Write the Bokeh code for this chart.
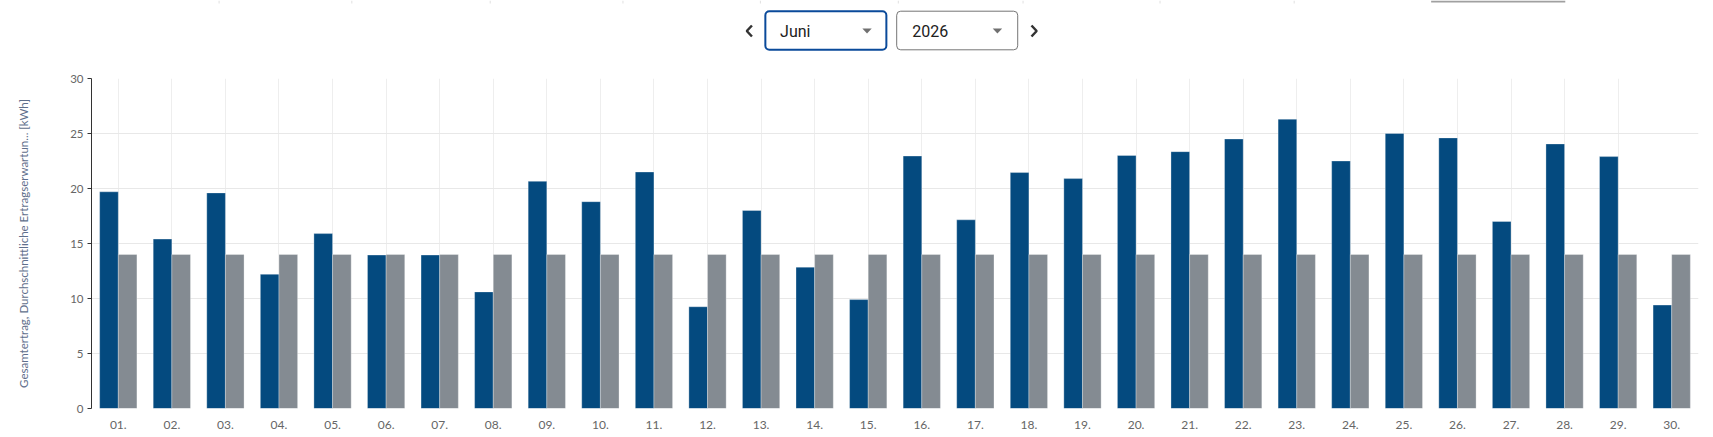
from bokeh.plotting import figure
from bokeh.models import ColumnDataSource, FactorRange, Range1d, FixedTicker, BoxAnnotation
from bokeh.transform import dodge
from bokeh.layouts import column
from bokeh.embed import file_html
from bokeh.resources import INLINE
from bokeh.core.properties import value

# ---------------- data ----------------
days = ["01.", "02.", "03.", "04.", "05.", "06.", "07.", "08.", "09.", "10.",
        "11.", "12.", "13.", "14.", "15.", "16.", "17.", "18.", "19.", "20.",
        "21.", "22.", "23.", "24.", "25.", "26.", "27.", "28.", "29.", "30."]
gesamtertrag = [19.7, 15.4, 19.6, 12.2, 15.9, 13.95, 13.95, 10.6, 20.65, 18.8,
                21.5, 9.25, 18.0, 12.85, 9.9, 22.95, 17.15, 21.45, 20.9, 23.0,
                23.35, 24.5, 26.3, 22.5, 25.0, 24.6, 17.0, 24.05, 22.9, 9.4]
ertragserwartung = [14.0, 14.0, 14.0, 14.0, 14.0, 14.0, 14.0, 14.0, 14.0, 14.0,
                    14.0, 14.0, 14.0, 14.0, 14.0, 14.0, 14.0, 14.0, 14.0, 14.0,
                    14.0, 14.0, 14.0, 14.0, 14.0, 14.0, 14.0, 14.0, 14.0, 14.0]
y_ticks = [0, 5, 10, 15, 20, 25, 30]
y_grid_ticks = [5, 10, 15, 20, 25]
y_axis_title = "Gesamtertrag, Durchschnittliche Ertragserwartun... [kWh]"
month_label = "Juni"
year_label = "2026"

BLUE = "#044a7f"
GRAY = "#848b92"
AXIS_FONT = "Lato"
W = 1713
TOP_H = 68

# ---------------- top control strip ----------------
t = figure(width=W, height=TOP_H, x_range=Range1d(0, W), y_range=Range1d(0, TOP_H),
           output_backend="svg", toolbar_location=None,
           min_border_left=0, min_border_right=0, min_border_top=0, min_border_bottom=0)
t.axis.visible = False
t.grid.visible = False
t.outline_line_color = None


def yy(page_y):
    return TOP_H - page_y


# cut-off tab separators / button of the page above
sep_x = [136, 277.5, 425, 566.5, 713, 860, 993, 1139, 1282]
t.segment(x0=sep_x, y0=[yy(0)] * len(sep_x), x1=sep_x, y1=[yy(3)] * len(sep_x),
          line_color="#e0e0e0", line_width=1)
t.quad(left=[1428], right=[1571], top=[yy(0)], bottom=[yy(2)],
       fill_color="#a0a0a0", line_color=None)

# chevrons
t.line(x=[704, 698.5, 704], y=[yy(25), yy(30.5), yy(36)], line_color="#333333", line_width=2.5)
t.line(x=[1002, 1007.5, 1002], y=[yy(25), yy(30.5), yy(36)], line_color="#333333", line_width=2.5)

# select boxes
t.add_layout(BoxAnnotation(left=718.3, right=847.3, top=yy(10.7), bottom=yy(49.3),
                           fill_color="white", fill_alpha=1.0, line_color="#0a4a9a",
                           line_alpha=1.0, line_width=2, border_radius=4, level="underlay"))
t.add_layout(BoxAnnotation(left=858.3, right=987.3, top=yy(10.7), bottom=yy(49.3),
                           fill_color="white", fill_alpha=1.0, line_color="#757575",
                           line_alpha=1.0, line_width=1, border_radius=4, level="underlay"))
t.text(x=[734, 875], y=[yy(30.5), yy(30.5)], text=[month_label, year_label],
       text_font=value("Roboto"), text_font_size="16px", text_baseline="middle",
       text_align="left", text_color="#212121")
t.patches(xs=[[821.7, 831.7, 826.7], [960.7, 970.7, 965.7]],
          ys=[[yy(28), yy(28), yy(33)], [yy(28), yy(28), yy(33)]],
          fill_color="#707070", line_color=None)

# ---------------- main chart ----------------
source = ColumnDataSource(dict(day=days, ges=gesamtertrag, erw=ertragserwartung))

p = figure(width=W, height=437 - TOP_H, x_range=FactorRange(factors=days, range_padding=0),
           y_range=Range1d(0, 30), output_backend="svg", toolbar_location=None,
           min_border_left=91, min_border_right=15, min_border_top=10, min_border_bottom=29)
p.outline_line_color = None
p.background_fill_color = "white"

p.vbar(x=dodge("day", -0.174, range=p.x_range), top="ges", width=0.348, source=source,
       fill_color=BLUE, line_color="white", line_alpha=0.3, line_width=1)
p.vbar(x=dodge("day", 0.174, range=p.x_range), top="erw", width=0.348, source=source,
       fill_color=GRAY, line_color="white", line_alpha=0.3, line_width=1)

# grids
p.xgrid.grid_line_color = "#eeeeee"
p.ygrid.ticker = FixedTicker(ticks=y_grid_ticks)
p.ygrid.grid_line_color = "#e8e8e8"

# x axis
xa = p.xaxis[0]
xa.axis_line_color = None
xa.major_tick_line_color = None
xa.minor_tick_line_color = None
xa.major_label_standoff = 6
xa.major_label_text_font = AXIS_FONT
xa.major_label_text_font_size = "12px"
xa.major_label_text_color = "#666666"

# y axis
ya = p.yaxis[0]
ya.ticker = FixedTicker(ticks=y_ticks)
ya.axis_line_color = "#333333"
ya.major_tick_line_color = "#333333"
ya.major_tick_out = 4
ya.major_tick_in = 0
ya.minor_tick_line_color = None
ya.major_label_standoff = 4
ya.major_label_text_font = AXIS_FONT
ya.major_label_text_font_size = "11.5px"
ya.major_label_text_color = "#666666"
ya.axis_label = y_axis_title
ya.axis_label_text_font = AXIS_FONT
ya.axis_label_text_font_size = "11.5px"
ya.axis_label_text_font_style = "normal"
ya.axis_label_text_color = "#5f6f8c"
ya.axis_label_standoff = 37

layout = column(t, p, spacing=0)
open("out.html", "w").write(file_html(layout, INLINE))
